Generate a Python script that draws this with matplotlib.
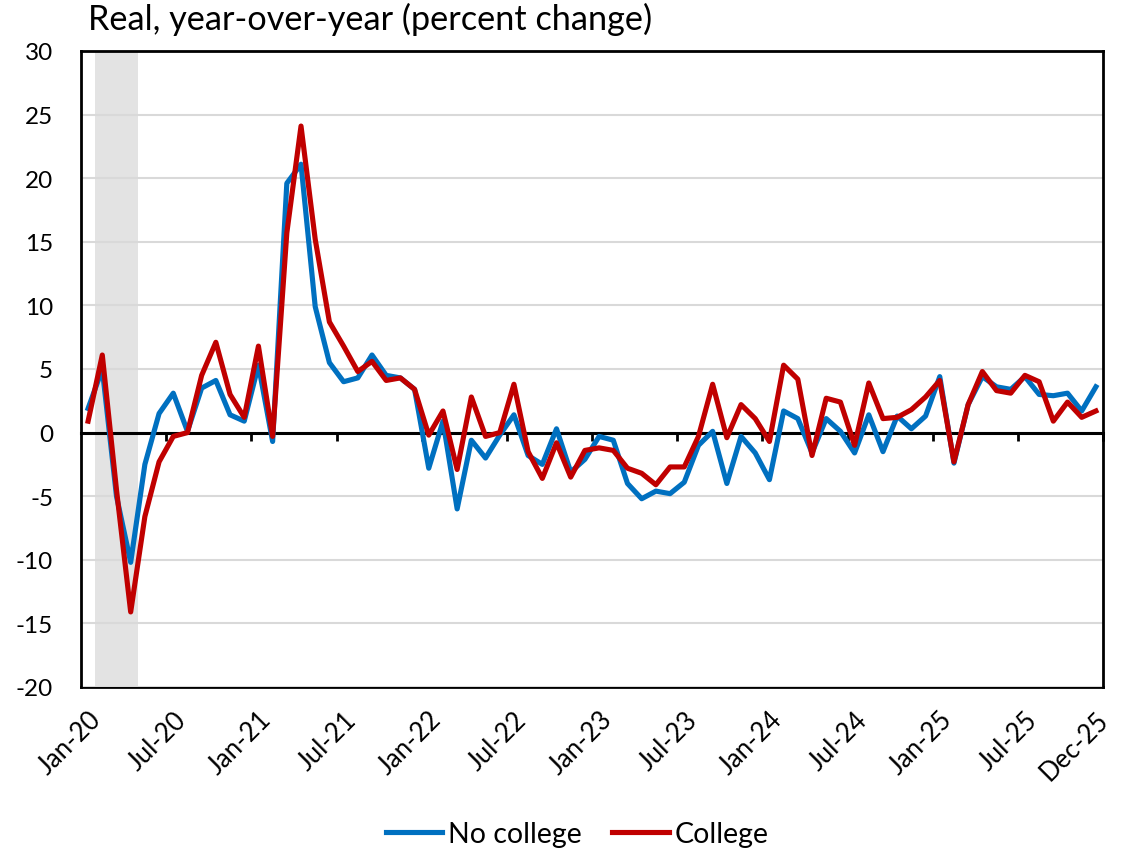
import numpy as np
import pandas as pd
import matplotlib.pyplot as plt

plt.rcParams['font.family'] = ['Lato', 'DejaVu Sans']
plt.rcParams['axes.unicode_minus'] = False

# Monthly categories, Jan-20 .. Dec-25
months = pd.date_range('2020-01-01', '2025-12-01', freq='MS').strftime('%b-%y').tolist()

# Real, year-over-year percent change
no_college = [1.9, 5.0, -5.0, -10.2, -2.5, 1.5, 3.1, 0.1, 3.5, 4.1, 1.4, 0.9,
              5.3, -0.7, 19.6, 21.1, 9.9, 5.5, 4.0, 4.3, 6.1, 4.5, 4.3, 3.4,
              -2.8, 0.9, -6.0, -0.6, -2.0, -0.2, 1.4, -1.8, -2.5, 0.3, -3.1, -2.1,
              -0.3, -0.6, -4.0, -5.2, -4.6, -4.8, -3.9, -1.0, 0.1, -4.0, -0.3, -1.6,
              -3.7, 1.7, 1.1, -1.6, 1.1, 0.1, -1.6, 1.4, -1.5, 1.3, 0.3, 1.3,
              4.4, -2.4, 2.2, 4.4, 3.6, 3.4, 4.4, 3.0, 2.9, 3.1, 1.7, 3.6]
college = [0.9, 6.1, -4.5, -14.1, -6.6, -2.3, -0.3, 0.0, 4.5, 7.1, 3.0, 1.2,
           6.8, -0.3, 15.7, 24.1, 15.2, 8.7, 6.8, 4.8, 5.6, 4.1, 4.3, 3.4,
           -0.2, 1.7, -2.9, 2.8, -0.3, 0.0, 3.8, -1.5, -3.6, -0.8, -3.5, -1.4,
           -1.2, -1.4, -2.8, -3.2, -4.1, -2.7, -2.7, -0.3, 3.8, -0.4, 2.2, 1.1,
           -0.7, 5.3, 4.2, -1.8, 2.7, 2.4, -1.0, 3.9, 1.1, 1.2, 1.8, 2.8,
           4.1, -2.3, 2.2, 4.8, 3.3, 3.1, 4.5, 4.0, 0.9, 2.4, 1.2, 1.7]

tick_labels = ['Jan-20', 'Jul-20', 'Jan-21', 'Jul-21', 'Jan-22', 'Jul-22', 'Jan-23',
               'Jul-23', 'Jan-24', 'Jul-24', 'Jan-25', 'Jul-25', 'Dec-25']
recession = ('Feb-20', 'Apr-20')

x = np.arange(len(months))

fig = plt.figure(figsize=(11.27, 8.54), dpi=100)
ax = fig.add_axes([81 / 1127, 1 - 688 / 854, (1103 - 81) / 1127, (688 - 52) / 854])

# recession shading
ax.axvspan(months.index(recession[0]) - 0.5, months.index(recession[1]) + 0.5,
           color='#E3E3E3', lw=0, zorder=0)

ax.grid(axis='y', color='#D9D9D9', lw=1.5)
ax.set_axisbelow(True)

ax.plot(x, no_college, color='#0070C0', lw=3.7, label='No college', zorder=3)
ax.plot(x, college, color='#C00000', lw=3.7, label='College', zorder=4)

ax.set_xlim(-0.5, len(months) - 0.5)
ax.set_ylim(-20, 30)
ax.set_yticks(range(-20, 31, 5))
ax.tick_params(axis='y', length=0, pad=20, labelsize=17.5)

# zero line with tick marks between half-years
ax.spines['bottom'].set_position(('data', 0))
ax.spines['bottom'].set_linewidth(2.2)
ax.set_xticks(np.append(np.arange(5.5, len(months), 6), len(months) - 0.5))
ax.tick_params(axis='x', direction='out', length=6, width=2, labelbottom=False)
for s in ['left', 'right', 'top']:
    ax.spines[s].set_linewidth(2)

# category labels along the bottom of the box
sec = ax.secondary_xaxis(0.0)
sec.set_xticks([months.index(l) for l in tick_labels], tick_labels,
               rotation=45, ha='right', rotation_mode='anchor')
sec.tick_params(length=0, pad=14, labelsize=18.5)
sec.spines['bottom'].set_linewidth(2)

fig.text(88 / 1127, 1 - 19 / 854, 'Real, year-over-year (percent change)',
         fontsize=24.7, ha='left', va='center')

fig.legend(loc='center', bbox_to_anchor=(577 / 1127, 1 - 835 / 854), ncol=2,
           frameon=False, fontsize=20.5, handlelength=2.0, handletextpad=0.2,
           columnspacing=1.05)

fig.savefig('out.png', dpi=100)
